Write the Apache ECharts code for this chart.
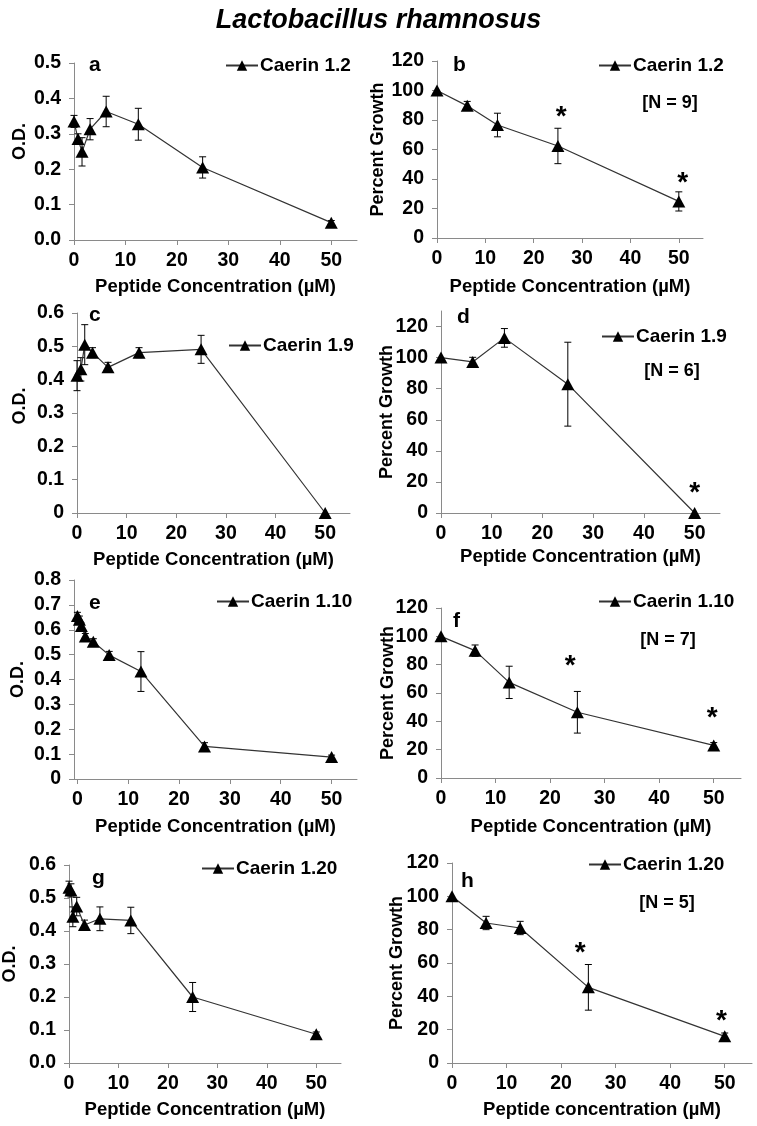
<!DOCTYPE html>
<html>
<head>
<meta charset="utf-8">
<script src="https://cdn.jsdelivr.net/npm/echarts@6/dist/echarts.min.js"></script>
<style>
html,body{margin:0;padding:0;background:#fff;}
#c{width:757px;height:1126px;}
</style>
</head>
<body>
<div id="c"></div>
<script>
// ---------------- DATA ----------------
const chartTitle = 'Lactobacillus rhamnosus';
const xTicks = [0, 10, 20, 30, 40, 50];

// panel a (O.D., Caerin 1.2)
const xA = [0, 0.78, 1.56, 3.125, 6.25, 12.5, 25, 50];
const yA = [0.335, 0.285, 0.249, 0.313, 0.363, 0.327, 0.205, 0.049];
const eA = [0.017, 0.015, 0.04, 0.03, 0.043, 0.045, 0.03, 0.006];
const yTicksA = [0, 0.1, 0.2, 0.3, 0.4, 0.5];

// panel b (Percent growth, Caerin 1.2)
const xB = [0, 6.25, 12.5, 25, 50];
const yB = [100, 89.6, 76.6, 62.4, 24.8];
const eB = [0, 3, 8, 12, 6.5];
const starXB = [25.7, 50.8];
const starYB = [86.7, 41.7];
const yTicksPct = [0, 20, 40, 60, 80, 100, 120];

// panel c (O.D., Caerin 1.9)
const xC = [0, 0.78, 1.56, 3.125, 6.25, 12.5, 25, 50];
const yC = [0.412, 0.431, 0.505, 0.481, 0.437, 0.481, 0.491, 0];
const eC = [0.045, 0.035, 0.06, 0.015, 0.015, 0.015, 0.042, 0];
const yTicksC = [0, 0.1, 0.2, 0.3, 0.4, 0.5, 0.6];

// panel d (Percent growth, Caerin 1.9)
const xD = [0, 6.25, 12.5, 25, 50];
const yD = [100, 97.2, 112.7, 82.9, 0];
const eD = [0, 3, 6, 27, 0];
const starXD = [50];
const starYD = [17];

// panel e (O.D., Caerin 1.10)
const xE = [0, 0.39, 0.78, 1.56, 3.125, 6.25, 12.5, 25, 50];
const yE = [0.655, 0.64, 0.615, 0.573, 0.552, 0.498, 0.432, 0.131, 0.088];
const eE = [0.015, 0.015, 0.012, 0.012, 0.012, 0.015, 0.08, 0.015, 0.008];
const yTicksE = [0, 0.1, 0.2, 0.3, 0.4, 0.5, 0.6, 0.7, 0.8];

// panel f (Percent growth, Caerin 1.10)
const xF = [0, 6.25, 12.5, 25, 50];
const yF = [100, 89.9, 67.5, 46.4, 23];
const eF = [0, 4, 11.4, 14.7, 2];
const starXF = [23.7, 49.7];
const starYF = [83.5, 47];

// panel g (O.D., Caerin 1.20)
const xG = [0, 0.39, 0.78, 1.56, 3.125, 6.25, 12.5, 25, 50];
const yG = [0.531, 0.523, 0.443, 0.474, 0.418, 0.437, 0.432, 0.2, 0.087];
const eG = [0.02, 0.02, 0.03, 0.028, 0.015, 0.036, 0.04, 0.044, 0.007];
const yTicksG = [0, 0.1, 0.2, 0.3, 0.4, 0.5, 0.6];

// panel h (Percent growth, Caerin 1.20)
const xH = [0, 6.25, 12.5, 25, 50];
const yH = [100, 84, 81, 45.4, 16];
const eH = [0, 4, 4, 13.7, 2];
const starXH = [23.5, 49.4];
const starYH = [70, 29];

const peptideNames = ['Caerin 1.2', 'Caerin 1.9', 'Caerin 1.10', 'Caerin 1.20'];
const nLabels = ['[N = 9]', '[N = 6]', '[N = 7]', '[N = 5]'];
const panelLetters = ['a', 'b', 'c', 'd', 'e', 'f', 'g', 'h'];
const xTitle = 'Peptide Concentration (\u00b5M)';
const xTitleH = 'Peptide concentration (\u00b5M)';
const yTitleOD = 'O.D.';
const yTitlePct = 'Percent Growth';

// ---------------- LAYOUT ----------------
const FONT = '"Liberation Sans", Arial, sans-serif';
const AXC = '#8a8a8a';

const panels = [
  {x:xA,y:yA,e:eA,sx:[],sy:[],name:peptideNames[0],yt:yTicksA,ymax:0.5,fmt:v=>v.toFixed(1),yname:yTitleOD,xname:xTitle,
   grid:{left:74,top:63,width:283,height:177},xmin:0,nameGapY:45,nameGapX:37,legend:{left:225,top:56},letter:[95,67],ypad:[0,0,0,20]},
  {x:xB,y:yB,e:eB,sx:starXB,sy:starYB,name:peptideNames[0],yt:yTicksPct,ymax:120,fmt:v=>String(v),yname:yTitlePct,xname:xTitle,
   grid:{left:437,top:61,width:266,height:177},xmin:0,nameGapY:50,nameGapX:39,legend:{left:598,top:56},letter:[459,67],n:[670,103,nLabels[0]]},
  {x:xC,y:yC,e:eC,sx:[],sy:[],name:peptideNames[1],yt:yTicksC,ymax:0.6,fmt:v=>v===0?'0':v.toFixed(1),yname:yTitleOD,xname:xTitle,
   grid:{left:77,top:313,width:273,height:200},xmin:0,nameGapY:48,nameGapX:37,legend:{left:228,top:336},letter:[95,317],ypad:[0,0,0,14]},
  {x:xD,y:yD,e:eD,sx:starXD,sy:starYD,name:peptideNames[1],yt:yTicksPct,ymax:130,fmt:v=>String(v),yname:yTitlePct,xname:xTitle,
   grid:{left:441,top:311,width:279,height:202},xmin:0,nameGapY:45,nameGapX:34,legend:{left:601,top:327},letter:[463,319],n:[672,371,nLabels[1]]},
  {x:xE,y:yE,e:eE,sx:[],sy:[],name:peptideNames[2],yt:yTicksE,ymax:0.8,fmt:v=>v===0?'0':v.toFixed(1),yname:yTitleOD,xname:xTitle,
   grid:{left:74,top:580,width:283,height:199},xmin:-0.67,nameGapY:47,nameGapX:38,legend:{left:216,top:592},letter:[95,605]},
  {x:xF,y:yF,e:eF,sx:starXF,sy:starYF,name:peptideNames[2],yt:yTicksPct,ymax:120,fmt:v=>String(v),yname:yTitlePct,xname:xTitle,
   grid:{left:441,top:608,width:300,height:170},xmin:0,nameGapY:44,nameGapX:39,legend:{left:598,top:592},letter:[459,623],n:[668,640,nLabels[2]]},
  {x:xG,y:yG,e:eG,sx:[],sy:[],name:peptideNames[3],yt:yTicksG,ymax:0.6,fmt:v=>v.toFixed(1),yname:yTitleOD,xname:xTitle,
   grid:{left:69,top:865,width:272,height:198},xmin:0,nameGapY:50,nameGapX:37,legend:{left:201,top:859},letter:[98,880]},
  {x:xH,y:yH,e:eH,sx:starXH,sy:starYH,name:peptideNames[3],yt:yTicksPct,ymax:120,fmt:v=>String(v),yname:yTitlePct,xname:xTitleH,
   grid:{left:452,top:863,width:300,height:200},xmin:0,nameGapY:46,nameGapX:37,legend:{left:588,top:855},letter:[467,883],n:[667,903,nLabels[3]]}
];

function errRender(params, api) {
  const x = api.value(0), y = api.value(1), e = api.value(2);
  if (!e) return null;
  const t = api.coord([x, y + e]), b = api.coord([x, y - e]);
  const w = 3.5, st = {stroke:'#000', lineWidth:1};
  return {type:'group', children:[
    {type:'line', shape:{x1:t[0], y1:t[1], x2:b[0], y2:b[1]}, style:st},
    {type:'line', shape:{x1:t[0]-w, y1:t[1], x2:t[0]+w, y2:t[1]}, style:st},
    {type:'line', shape:{x1:b[0]-w, y1:b[1], x2:b[0]+w, y2:b[1]}, style:st}
  ]};
}
function starRender(params, api) {
  const p = api.coord([api.value(0), api.value(1)]);
  return {type:'text', x:p[0], y:p[1] + 7, style:{text:'*', fontSize:28, fontWeight:'bold', fontFamily:FONT, fill:'#000', align:'center', verticalAlign:'middle'}};
}

const grid = [], xAxis = [], yAxis = [], series = [], legend = [], graphic = [];
panels.forEach((p, i) => {
  grid.push(Object.assign({containLabel:false}, p.grid));
  xAxis.push({
    type:'value', gridIndex:i, min:p.xmin, max:55,
    name:p.xname, nameLocation:'middle', nameGap:p.nameGapX, nameMoveOverlap:false,
    nameTextStyle:{fontFamily:FONT, fontWeight:'bold', fontSize:18.5, color:'#000'},
    axisLine:{show:true, onZero:false, lineStyle:{color:AXC, width:1}},
    axisTick:{show:true, length:5, inside:false, customValues:xTicks, lineStyle:{color:AXC}},
    axisLabel:{customValues:xTicks, margin:11, fontFamily:FONT, fontWeight:'bold', fontSize:19.5, color:'#000'},
    splitLine:{show:false}
  });
  yAxis.push({
    type:'value', gridIndex:i, min:0, max:p.ymax,
    name:p.yname, nameLocation:'middle', nameGap:p.nameGapY, nameMoveOverlap:false,
    nameTextStyle:{fontFamily:FONT, fontWeight:'bold', fontSize:18, color:'#000', padding:p.ypad || 0},
    axisLine:{show:true, onZero:false, lineStyle:{color:AXC, width:1}},
    axisTick:{show:true, length:5, inside:false, customValues:p.yt, lineStyle:{color:AXC}},
    axisLabel:{customValues:p.yt, margin:13, fontFamily:FONT, fontWeight:'bold', fontSize:19.5, color:'#000', formatter:p.fmt},
    splitLine:{show:false}
  });
  series.push({
    type:'custom', name:'err' + i, xAxisIndex:i, yAxisIndex:i, renderItem:errRender,
    encode:{x:0, y:1}, data:p.x.map((v, k) => [v, p.y[k], p.e[k]]), z:2, silent:true
  });
  series.push({
    type:'line', name:p.name, xAxisIndex:i, yAxisIndex:i,
    data:p.x.map((v, k) => [v, p.y[k]]),
    symbol:'triangle', symbolSize:[13, 12], showSymbol:true,
    itemStyle:{color:'#000', borderWidth:0},
    lineStyle:{color:'#333', width:1.2}, z:3
  });
  if (p.sx.length) {
    series.push({
      type:'custom', name:'star' + i, xAxisIndex:i, yAxisIndex:i, renderItem:starRender,
      encode:{x:0, y:1}, data:p.sx.map((v, k) => [v, p.sy[k]]), z:4, silent:true
    });
  }
  legend.push({
    data:[p.name], left:p.legend.left, top:p.legend.top, orient:'horizontal', padding:0,
    itemWidth:32, itemHeight:13, itemGap:0, selectedMode:false,
    textStyle:{fontFamily:FONT, fontWeight:'bold', fontSize:19, color:'#000', padding:[0,0,0,-3]}
  });
  graphic.push({type:'text', left:p.letter[0] - 6, top:p.letter[1] - 12,
    style:{text:panelLetters[i], fontFamily:FONT, fontWeight:'bold', fontSize:21, fill:'#000'}});
  if (p.n) {
    graphic.push({type:'text', x:p.n[0], y:p.n[1],
      style:{text:p.n[2], fontFamily:FONT, fontWeight:'bold', fontSize:18, fill:'#000', align:'center', verticalAlign:'middle'}});
  }
});

const chart = echarts.init(document.getElementById('c'), null, {renderer:'canvas'});
chart.setOption({
  backgroundColor:'#fff',
  animation:false,
  title:{text:chartTitle, left:'center', top:2,
    textStyle:{fontFamily:FONT, fontWeight:'bold', fontStyle:'italic', fontSize:27, color:'#000'}},
  grid, xAxis, yAxis, series, legend, graphic,
  tooltip:{show:false}
});
</script>
</body>
</html>
